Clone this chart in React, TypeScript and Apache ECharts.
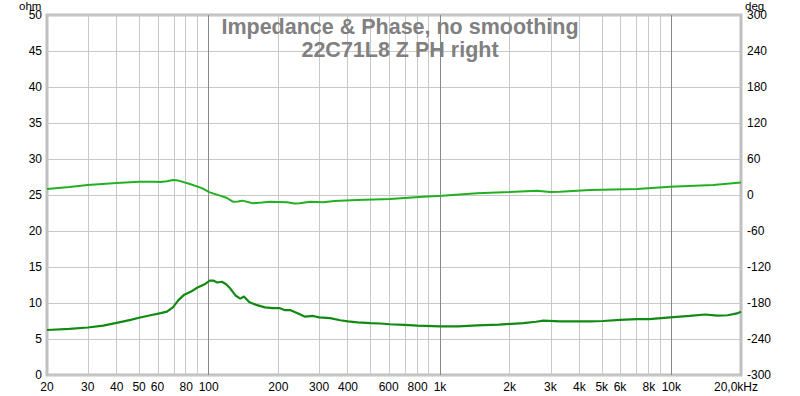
import React, { useEffect, useRef } from 'react';
import * as echarts from 'echarts';

// Impedance magnitude (ohm) vs frequency (Hz)
const impFreq = [20, 25, 30, 35, 40, 46, 50, 56, 62, 66, 70, 74, 78, 84, 90, 96, 101, 105, 109, 114, 119, 124, 131, 137, 142, 150, 162, 175, 190, 202, 214, 226, 245, 261, 283, 300, 335, 370, 400, 440, 500, 550, 608, 700, 800, 1000, 1200, 1450, 1800, 2290, 2600, 2800, 3300, 4450, 5070, 6000, 7100, 8000, 9900, 12000, 14000, 15800, 17500, 19200, 20000];
const impOhm = [6.25, 6.4, 6.6, 6.85, 7.25, 7.65, 7.95, 8.3, 8.6, 8.8, 9.4, 10.4, 11.1, 11.6, 12.2, 12.6, 13.1, 13.1, 12.85, 12.95, 12.6, 12.0, 11.0, 10.6, 10.9, 10.1, 9.7, 9.4, 9.3, 9.3, 9.0, 9.0, 8.5, 8.1, 8.2, 8.0, 7.9, 7.6, 7.45, 7.3, 7.2, 7.15, 7.05, 6.95, 6.85, 6.75, 6.75, 6.9, 7.0, 7.2, 7.4, 7.55, 7.45, 7.45, 7.5, 7.65, 7.75, 7.75, 8.0, 8.2, 8.4, 8.25, 8.3, 8.55, 8.8];

// Phase (deg) vs frequency (Hz)
const phFreq = [20, 25, 30, 40, 50, 58, 62, 66, 70, 74, 83, 94, 101, 112, 120, 127, 134, 140, 155, 170, 184, 200, 218, 235, 248, 274, 312, 350, 438, 608, 844, 1020, 1446, 2000, 2626, 2990, 3300, 4450, 7110, 9880, 15150, 20000];
const phDeg = [10, 13.5, 16.5, 20, 22.2, 22, 21.5, 23, 25, 24, 18.3, 11.1, 4.4, -1.1, -5, -11.1, -11, -9.4, -13.9, -12.5, -11.1, -11.5, -12.2, -14, -13.9, -11.1, -12.2, -10, -8.3, -6.7, -2.8, -1.1, 2.8, 5, 7.2, 5, 5.6, 8.3, 10, 13.9, 16.7, 21];

// Axis ticks
const xTickFreqs = [20, 30, 40, 50, 60, 80, 100, 200, 300, 400, 600, 800, 1000, 2000, 3000, 4000, 5000, 6000, 8000, 10000, 20000];
const xTickLabels = ['20', '30', '40', '50', '60', '80', '100', '200', '300', '400', '600', '800', '1k', '2k', '3k', '4k', '5k', '6k', '8k', '10k', '20,0kHz'];
const minorGridFreqs = [30, 40, 50, 60, 70, 80, 90, 200, 300, 400, 500, 600, 700, 800, 900, 2000, 3000, 4000, 5000, 6000, 7000, 8000, 9000];
const majorGridFreqs = [100, 1000, 10000];

const FONT = '"Liberation Sans", Arial, sans-serif';

export default function App() {
  const ref = useRef<HTMLDivElement>(null);
  useEffect(() => {
    if (!ref.current) return;
    const chart = echarts.init(ref.current, undefined, { renderer: 'svg' });
    const lg = (f: number) => Math.log10(f);
    const tickLogs = xTickFreqs.map(lg);
    const lastIdx = xTickLabels.length - 1;
    const option: any = {
      animation: false,
      backgroundColor: '#ffffff',
      textStyle: { fontFamily: FONT },
      title: {
        text: 'Impedance & Phase, no smoothing\n22C71L8 Z PH right',
        left: 'center',
        top: 10,
        textStyle: { fontFamily: FONT, fontSize: 21.5, fontWeight: 'bold', color: '#808080', lineHeight: 23 },
        z: 20,
      },
      grid: {
        left: 47, right: 59, top: 15, bottom: 21,
        show: true, borderColor: '#c0c0c0', borderWidth: 3, backgroundColor: '#ffffff',
      },
      xAxis: {
        type: 'value',
        min: lg(20),
        max: lg(20000),
        axisLine: { show: false },
        axisTick: { show: false, customValues: tickLogs },
        splitLine: { show: false },
        axisLabel: {
          customValues: tickLogs,
          margin: 6,
          color: '#000',
          fontSize: 12,
          fontFamily: FONT,
          formatter: (v: number) => {
            let best = 0;
            let bd = Infinity;
            tickLogs.forEach((t, i) => {
              const d = Math.abs(t - v);
              if (d < bd) { bd = d; best = i; }
            });
            return best === lastIdx ? '{last|' + xTickLabels[best] + '}' : xTickLabels[best];
          },
          rich: {
            last: { fontSize: 12, fontFamily: FONT, color: '#000', padding: [0, 10, 0, 0] },
          },
        },
      },
      yAxis: [
        {
          type: 'value', min: 0, max: 50, interval: 5,
          axisLine: { show: false }, axisTick: { show: false },
          splitLine: { show: true, lineStyle: { color: '#c8c8c8', width: 1 } },
          axisLabel: { color: '#000', fontSize: 12, fontFamily: FONT, margin: 5, lineHeight: 10 },
        },
        {
          type: 'value', min: -300, max: 300, interval: 60, position: 'right',
          axisLine: { show: false }, axisTick: { show: false },
          splitLine: { show: false },
          axisLabel: { color: '#000', fontSize: 12, fontFamily: FONT, margin: 6, lineHeight: 10 },
        },
      ],
      graphic: [
        { type: 'text', left: 19, top: 0, z: 30, style: { text: 'ohm', fill: '#000', font: '11.5px ' + FONT, lineHeight: 9 } },
        { type: 'text', left: 745, top: 0, z: 30, style: { text: 'deg', fill: '#000', font: '11.5px ' + FONT, lineHeight: 9 } },
      ],
      series: [
        {
          type: 'line', data: [], z: 1, silent: true,
          markLine: {
            silent: true, symbol: 'none', z: 1, label: { show: false },
            lineStyle: { color: '#c8c8c8', width: 1, type: 'solid' },
            data: minorGridFreqs.map((f) => ({ xAxis: lg(f) })),
          },
        },
        {
          type: 'line', data: [], z: 1, silent: true,
          markLine: {
            silent: true, symbol: 'none', z: 1, label: { show: false },
            lineStyle: { color: '#888888', width: 1, type: 'solid' },
            data: majorGridFreqs.map((f) => ({ xAxis: lg(f) })),
          },
        },
        {
          name: 'Phase', type: 'line', yAxisIndex: 1, z: 10, showSymbol: false, symbol: 'none',
          lineStyle: { color: '#22b022', width: 2 },
          data: phFreq.map((f, i) => [lg(f), phDeg[i]]),
        },
        {
          name: 'Impedance', type: 'line', yAxisIndex: 0, z: 10, showSymbol: false, symbol: 'none',
          lineStyle: { color: '#118a11', width: 2.2 },
          data: impFreq.map((f, i) => [lg(f), impOhm[i]]),
        },
      ],
    };
    chart.setOption(option);
    return () => chart.dispose();
  }, []);
  return <div ref={ref} style={{ position: 'fixed', left: 0, top: 0, width: 800, height: 396 }} />;
}
